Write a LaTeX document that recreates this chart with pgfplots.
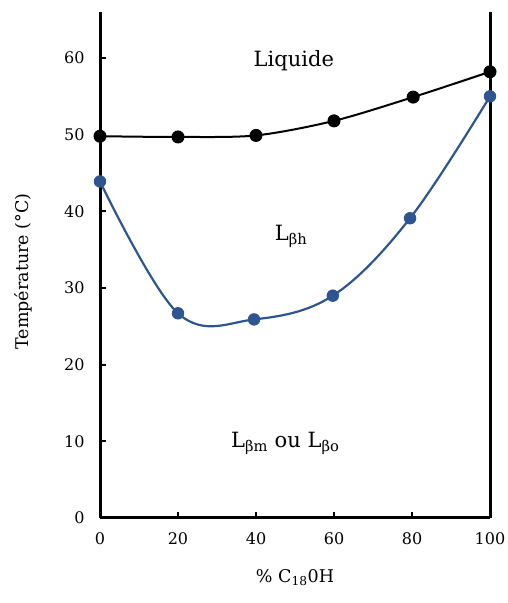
\documentclass[border=0pt]{standalone}
\usepackage{pgfplots}
\pgfplotsset{compat=1.18}
\usepackage{fontspec}
\setmainfont{DejaVu Serif}
\definecolor{bleu}{RGB}{47,85,145}
\begin{document}
\begin{tikzpicture}
\begin{axis}[
name=ax,
scale only axis,
width=390pt, height=506pt,
xmin=0, xmax=100,
ymin=0, ymax=66,
axis x line=bottom,
axis y line=left,
axis line style={line width=3pt, -},
xtick={0,20,...,100},
ytick={0,10,...,60},
tick align=inside,
major tick length=6pt,
tick style={line width=2pt, black},
/pgf/number format/assume math mode=true,
tick label style={font=\fontsize{16}{19}\selectfont},
xticklabel style={yshift=-11pt},
yticklabel style={xshift=-12pt},
label style={font=\fontsize{17.5}{20}\selectfont},
xlabel={\% C\textsubscript{18}0H},
ylabel={Température (°C)},
xlabel style={at={(axis description cs:0.5,0)}, anchor=center, yshift=-60pt},
ylabel style={at={(axis description cs:0,0.487)}, anchor=center, yshift=77pt},
clip=false,
]
% bord droit
\addplot[black, line width=3pt] coordinates {(100,0)(100,66)};
% liquidus
\addplot[black, line width=2pt, smooth, mark=*, mark size=6pt, mark options={line width=1pt}]
coordinates {
	(0,49.8)(20,49.7)(40,49.9)(60,51.8)(80.3,54.9)(100,58.2)
};
% transition
\addplot[bleu, line width=2.2pt, smooth, tension=0.6, mark=*, mark size=5.7pt, mark options={line width=1pt}]
coordinates {
	(0,43.9)(20,26.7)(39.5,25.9)(59.7,29.0)(79.5,39.1)(100,55.0)
};
\node[font=\fontsize{21}{24}\selectfont] at (axis cs:49.7,59.7) {Liquide};
\node[font=\fontsize{21}{24}\selectfont] at (axis cs:49,36.7) {L\textsubscript{βh}};
\node[font=\fontsize{21}{24}\selectfont] at (axis cs:47.5,9.7) {L\textsubscript{βm} ou L\textsubscript{βo}};
\end{axis}
\pgfresetboundingbox
\path ([xshift=-100pt,yshift=-85pt]ax.south west) rectangle ([xshift=17pt,yshift=12pt]ax.north east);
\end{tikzpicture}
\end{document}
